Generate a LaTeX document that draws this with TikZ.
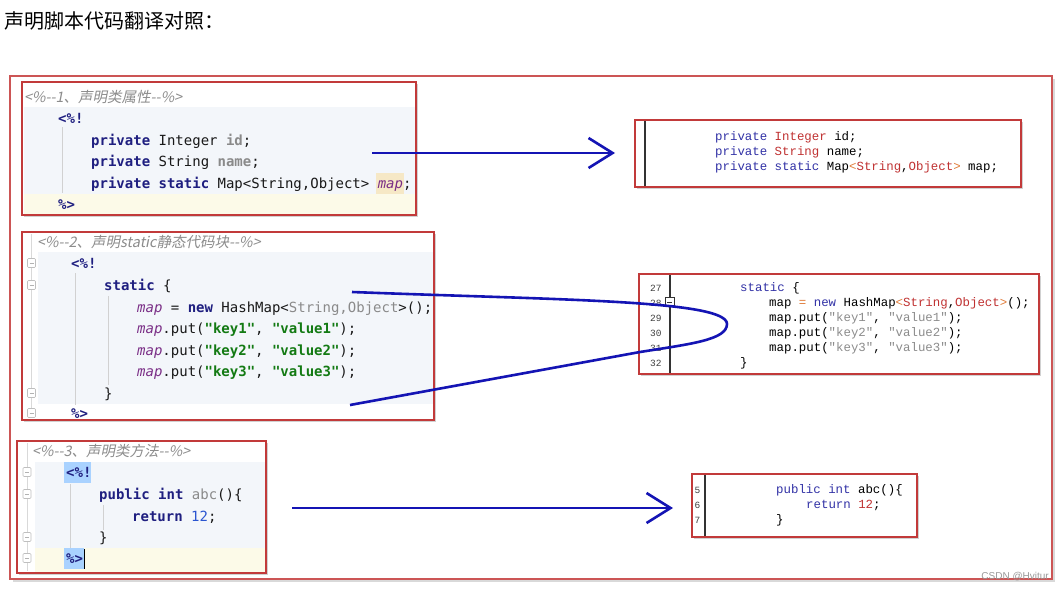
\documentclass[tikz,border=0pt]{standalone}
\usepackage{fontspec}
\usetikzlibrary{arrows.meta}
\newfontfamily\cjkup{Noto Sans CJK SC}
\newfontfamily\cjkit[FakeSlant=0.2]{Noto Sans CJK SC}
\newfontfamily\lmono{DejaVu Sans Mono}
\newfontfamily\rmono{Liberation Mono}
\newfontfamily\wmark{Liberation Sans}
\definecolor{boxred}{HTML}{C23A3A}
\definecolor{framered}{HTML}{CC5555}
\definecolor{arrblue}{HTML}{1414B4}
\definecolor{lkwc}{HTML}{1F1F80}
\definecolor{lgrayc}{HTML}{8A8A8A}
\definecolor{lvarc}{HTML}{7A2E86}
\definecolor{lstrc}{HTML}{137A13}
\definecolor{lnumc}{HTML}{2A55D0}
\definecolor{cmtc}{HTML}{8C8C8C}
\definecolor{rkwc}{HTML}{3232A6}
\definecolor{rtyc}{HTML}{C03232}
\definecolor{rorc}{HTML}{E07B39}
\definecolor{rstrc}{HTML}{8C8C8C}
\definecolor{bgblue}{HTML}{F3F6FA}
\definecolor{bgyel}{HTML}{FCFAE8}
\definecolor{selblue}{HTML}{A9D2FF}
\definecolor{maphl}{HTML}{F6E8C6}
\newcommand\lkw[1]{\textcolor{lkwc}{\bfseries #1}}
\newcommand\lgr[1]{\textcolor{lgrayc}{#1}}
\newcommand\lgb[1]{\textcolor{lgrayc}{\bfseries #1}}
\newcommand\lvar[1]{\textcolor{lvarc}{\itshape #1}}
\newcommand\lstrg[1]{\textcolor{lstrc}{\bfseries #1}}
\newcommand\rkw[1]{\textcolor{rkwc}{#1}}
\newcommand\rty[1]{\textcolor{rtyc}{#1}}
\newcommand\ror[1]{\textcolor{rorc}{#1}}
\newcommand\rstrg[1]{\textcolor{rstrc}{#1}}
\tikzset{
  lcode/.style={anchor=base west, inner sep=0pt, text=black!90, font=\lmono\fontsize{14}{16}\selectfont},
  rcode/.style={anchor=base west, inner sep=0pt, text=black, font=\rmono\fontsize{12.4}{14}\selectfont},
  rnum/.style={anchor=base west, inner sep=0pt, text=black!75, font=\rmono\fontsize{9.5}{11}\selectfont},
  cmtext/.style={anchor=base west, inner sep=0pt, text=cmtc, font=\cjkit\fontsize{14.5}{16}\selectfont},
  panelbox/.style={draw=boxred, line width=1.3pt},
  shadebox/.style={fill=black!18, draw=none},
  flowarrow/.style={draw=arrblue, line width=2.6pt, -{Straight Barb[length=24pt,width=30pt]}},
  loopline/.style={draw=arrblue, line width=2.6pt},
  guideline/.style={draw=black!18, line width=0.6pt},
  foldbox/.style={draw=black!25, fill=white, rounded corners=1pt, line width=0.6pt},
  gutterline/.style={draw=black!80, line width=1.4pt},
}
\begin{document}
\begin{tikzpicture}[x=1pt,y=-1pt]
\useasboundingbox (0,0) rectangle (1063,589);
\fill[white] (0,0) rectangle (1063,589);
% title
\node[anchor=base west, inner sep=0pt, font=\cjkup\fontsize{20}{22}\selectfont] (title) at (4,28) {声明脚本代码翻译对照：};
% outer frame
\fill[black!15] (13,79) rectangle (1055,582);
\draw[draw=framered, fill=white, line width=1.3pt] (10,76) rectangle (1052,579);

% ---------- box 1 ----------
\fill[shadebox] (24,84) rectangle (418,217);
\draw[panelbox, fill=white] (22,82) rectangle (416,215);
\fill[bgblue] (23.5,107) rectangle (414.5,194);
\fill[bgyel] (23.5,194) rectangle (414.5,213.5);
\fill[maphl] (376,173) rectangle (404,194);
\draw[guideline] (62,127) -- (62,193);
\node[cmtext] (c1) at (24,102) {<\%-{}-1、声明类属性-{}-\%>};
\node[lcode] (a1) at (58,123) {\lkw{<\%!}};
\node[lcode] (a2) at (91,145) {\lkw{private} Integer \lgb{id};};
\node[lcode] (a3) at (91,166) {\lkw{private} String \lgb{name};};
\node[lcode] (a4) at (91,188) {\lkw{private} \lkw{static} Map<String,Object> \lvar{map};};
\node[lcode] (a5) at (58,209) {\lkw{\%>}};

% ---------- box 1R ----------
\fill[shadebox] (637,122) rectangle (1023,189);
\draw[panelbox, fill=white] (635,120) rectangle (1021,187);
\draw[gutterline] (645,121) -- (645,186);
\node[rcode] (r1) at (715,140) {\rkw{private} \rty{Integer} id;};
\node[rcode] (r2) at (715,155) {\rkw{private} \rty{String} name;};
\node[rcode] (r3) at (715,170) {\rkw{private} \rkw{static} Map\ror{<}\rty{String},\rty{Object}\ror{>} map;};

% arrow 1
\coordinate (p1s) at (372,153);
\coordinate (p1e) at (615,153);
\draw[flowarrow] (p1s) -- (p1e);

% ---------- box 2 ----------
\fill[shadebox] (24,234) rectangle (436,422);
\draw[panelbox, fill=white] (22,232) rectangle (434,420);
\fill[bgblue] (38,252) rectangle (432.5,404);
\draw[draw=black!15, line width=0.6pt] (31,234) -- (31,418);
\foreach \yy in {263,285,393,413}{
  \draw[foldbox] (27.5,\yy-4.5) rectangle (35.5,\yy+4.5);
  \draw[draw=black!30, line width=0.6pt] (29.5,\yy) -- (33.5,\yy);
}
\draw[guideline] (75,273) -- (75,405);
\draw[guideline] (108,296) -- (108,385);
\node[cmtext] (c2) at (37,247) {<\%-{}-2、声明static静态代码块-{}-\%>};
\node[lcode] (b1) at (71,268) {\lkw{<\%!}};
\node[lcode] (b2) at (104,290) {\lkw{static} \{};
\node[lcode] (b3) at (137,312) {\lvar{map} = \lkw{new} HashMap<\lgr{String,Object}>();};
\node[lcode] (b4) at (137,333) {\lvar{map}.put(\lstrg{"key1"}, \lstrg{"value1"});};
\node[lcode] (b5) at (137,355) {\lvar{map}.put(\lstrg{"key2"}, \lstrg{"value2"});};
\node[lcode] (b6) at (137,376) {\lvar{map}.put(\lstrg{"key3"}, \lstrg{"value3"});};
\node[lcode] (b7) at (104,398) {\}};
\node[lcode] (b8) at (71,418) {\lkw{\%>}};

% ---------- box 2R ----------
\fill[shadebox] (641,276) rectangle (1041,376);
\draw[panelbox, fill=white] (639,274) rectangle (1039,374);
\draw[gutterline] (670,275) -- (670,373);
\node[rnum] (n27) at (650,291) {27};
\node[rnum] (n28) at (650,306) {28};
\node[rnum] (n29) at (650,321) {29};
\node[rnum] (n30) at (650,336) {30};
\node[rnum] (n31) at (650,351) {31};
\node[rnum] (n32) at (650,366) {32};
\draw[draw=black!80, fill=white, line width=0.7pt] (665,297.5) rectangle (674,306.5);
\draw[draw=black!80, line width=0.7pt] (667,302) -- (672,302);
\node[rcode] (s1) at (740,291) {\rkw{static} \{};
\node[rcode] (s2) at (769,306) {map \ror{=} \rkw{new} HashMap\ror{<}\rty{String},\rty{Object}\ror{>}();};
\node[rcode] (s3) at (769,321) {map.put(\rstrg{"key1"}, \rstrg{"value1"});};
\node[rcode] (s4) at (769,336) {map.put(\rstrg{"key2"}, \rstrg{"value2"});};
\node[rcode] (s5) at (769,351) {map.put(\rstrg{"key3"}, \rstrg{"value3"});};
\node[rcode] (s6) at (740,366) {\}};

% loop line
\coordinate (p2s) at (352,292);
\coordinate (p2e) at (350,405);
\draw[loopline] (p2s) .. controls (560,300) and (727,300) .. (727,324)
   .. controls (727,340) and (690,344) .. (640,352) -- (p2e);

% ---------- box 3 ----------
\fill[shadebox] (19,443) rectangle (268,575);
\draw[panelbox, fill=white] (17,441) rectangle (266,573);
\fill[bgblue] (35,462) rectangle (264.5,548);
\fill[bgyel] (35,548) rectangle (264.5,571.5);
\draw[draw=black!15, line width=0.6pt] (27,443) -- (27,571);
\foreach \yy in {472,494,537,558}{
  \draw[foldbox] (23,\yy-4.5) rectangle (31,\yy+4.5);
  \draw[draw=black!30, line width=0.6pt] (25,\yy) -- (29,\yy);
}
\fill[selblue] (64,462) rectangle (91,483);
\fill[selblue] (64,548) rectangle (84,569);
\draw[guideline] (70,484) -- (70,548);
\draw[guideline] (103,505) -- (103,530);
\node[cmtext] (c3) at (32,456) {<\%-{}-3、声明类方法-{}-\%>};
\node[lcode] (d1) at (66,477) {\lkw{<\%!}};
\node[lcode] (d2) at (99,499) {\lkw{public} \lkw{int} \lgr{abc}()\{};
\node[lcode] (d3) at (132,521) {\lkw{return} \textcolor{lnumc}{12};};
\node[lcode] (d4) at (99,542) {\}};
\node[lcode] (d5) at (66,563) {\lkw{\%>}};
\draw[black, line width=1.2pt] (84.5,549) -- (84.5,569);

% ---------- box 3R ----------
\fill[shadebox] (694,476) rectangle (919,539);
\draw[panelbox, fill=white] (692,474) rectangle (917,537);
\draw[gutterline] (705,475) -- (705,536);
\node[rnum] (m5) at (694.5,493) {5};
\node[rnum] (m6) at (694.5,508) {6};
\node[rnum] (m7) at (694.5,523) {7};
\node[rcode] (t1) at (776,493) {\rkw{public} \rkw{int} abc()\{};
\node[rcode] (t2) at (806,508) {\rkw{return} \rty{12};};
\node[rcode] (t3) at (776,523) {\}};

% arrow 3
\coordinate (p3s) at (292,508);
\coordinate (p3e) at (673,508);
\draw[flowarrow] (p3s) -- (p3e);

% watermark
\node[anchor=base east, inner sep=0pt, text=black!40, font=\wmark\fontsize{10}{12}\selectfont] (wm) at (1049,579) {CSDN @Hvitur};
\end{tikzpicture}
\end{document}
